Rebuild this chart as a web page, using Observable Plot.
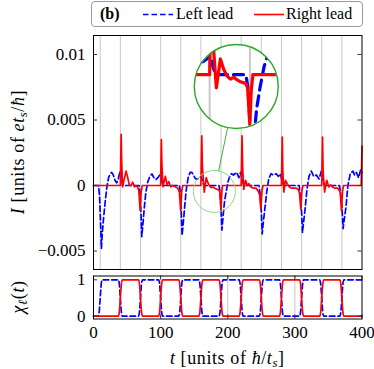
<!DOCTYPE html>
<html><head><meta charset="utf-8">
<script src="https://cdn.jsdelivr.net/npm/d3@7"></script>
<script src="https://cdn.jsdelivr.net/npm/@observablehq/plot@0.6"></script>
<style>
body{margin:0;background:#fff;}
#wrap{position:relative;width:374px;height:369px;font-family:"Liberation Serif","DejaVu Serif",serif;color:#000;overflow:hidden;}
#wrap svg{position:absolute;overflow:visible;}
#wrap svg, #wrap svg text, #wrap svg g{font-family:"Liberation Serif","DejaVu Serif",serif !important;}
.lab{position:absolute;white-space:nowrap;font-size:18px;letter-spacing:0.6px;line-height:1;}
.lab sub{font-size:0.7em;vertical-align:-0.25em;line-height:0;}
#legend{position:absolute;left:91px;top:1px;width:272px;height:26px;box-sizing:border-box;border:1px solid #9a9a9a;border-radius:4px;font-size:16px;}
#legend span{position:absolute;top:4px;white-space:nowrap;line-height:1;}
#legend svg{position:absolute;top:0;}
</style></head><body>
<div id="wrap"></div>
<script>
// ---- data ----
const leftT = [0, 7.5, 9, 10.5, 11.8, 13, 15, 17.5, 20, 22.5, 25, 27, 29.5, 32, 34.5, 37, 39.5, 41.5, 43.5,
  68, 69.5, 70.8, 72, 73.5, 75.5, 78, 81, 84, 87, 90, 93, 96, 98.5, 100, 101.5, 103.5,
  128, 129.5, 130.8, 132, 133.5, 135.5, 138, 141, 144, 146.5, 149, 152, 155, 158, 160.5, 162.5, 164.5,
  187, 188.5, 190, 191.3, 193, 195, 197.5, 200.5, 203, 205.5, 208.5, 211, 213.5, 216.5, 219, 221.5, 224,
  246.5, 248.5, 250, 251.3, 253, 255, 258, 261, 264.5, 268, 272, 275.5, 278.5, 281, 284,
  306.5, 308.5, 310, 311.3, 313, 315, 318, 321, 324.5, 328, 332, 336, 339.5, 342, 344.5,
  366.5, 368.5, 370, 371.8, 373.5, 376, 379, 382.5, 386.5, 389, 391.5, 395, 398, 400];
const leftI = [0, 0, -0.0008, -0.0028, -0.0048, -0.0037, -0.0025, -0.0012, -0.0001, 0.0006, 0.0009, 0.001, 0.0008, 0.0004, 0.0002, 0.0005, 0.0011, 0.0007, 0,
  0, -0.0006, -0.0022, -0.0039, -0.003, -0.0018, -0.0005, 0.0003, 0.0007, 0.00088, 0.0006, 0.00045, 0.0006, 0.0008, 0.0007, 0.0003, 0,
  0, -0.0006, -0.0022, -0.0038, -0.003, -0.0018, -0.0004, 0.0006, 0.001, 0.001, 0.0008, 0.0005, 0.0005, 0.0006, 0.0007, 0.0003, 0,
  0, -0.0005, -0.0018, -0.0034, -0.0024, -0.0013, -0.0005, 0.0003, 0.0007, 0.0009, 0.0008, 0.0009, 0.001, 0.0006, 0.001, 0.0004, 0,
  0, -0.0008, -0.002, -0.0037, -0.0028, -0.0019, -0.0005, 0.0005, 0.0009, 0.0008, 0.0009, 0.0007, 0.0009, 0.0003, 0,
  0, -0.0011, -0.002, -0.0036, -0.0028, -0.0019, -0.0003, 0.0007, 0.0011, 0.0007, 0.0008, 0.0005, 0.0011, 0.0003, 0,
  0, -0.0008, -0.0015, -0.0033, -0.0026, -0.0017, 0, 0.0009, 0.0011, 0.0008, 0.001, 0.0006, 0.0012, 0.001];

const rightT = [0, 40, 40.6, 41.2, 42, 43.3, 45, 48.5, 51, 53.5, 56, 58.5, 61, 63, 65.5, 67.5, 69.5, 71, 72.5,
  100, 100.5, 101.1, 101.9, 103.5, 107, 109.5, 112, 115, 118, 122, 125.5, 128, 129.8, 131.5, 133,
  160, 160.6, 161.3, 162.2, 165, 168, 170.5, 173, 175.5, 178, 180.5, 183, 186.7, 188.3, 189.9, 191, 192.2,
  220, 220.6, 221.3, 222.2, 223.8, 226.6, 229, 231.5, 234, 238, 242, 245, 247.5, 249.3, 251, 252.5,
  280, 280.6, 281.2, 282, 283.5, 286, 289, 291.5, 294.5, 298, 302, 305, 307, 308.8, 310.5, 312,
  340, 340.6, 341.2, 342, 344.2, 347.5, 350.5, 353, 356, 359, 364, 367.5, 369.4, 371, 372.5,
  398.8, 400];
const rightI = [0, 0, 0.002, 0.0039, 0.0018, -0.0001, 0.0003, 0.0011, 0.0006, 0, 0, 0.00025, -0.0001, 0, -0.0001, -0.0004, -0.0019, -0.0005, 0,
  0, 0.0018, 0.0035, 0.0016, -0.0001, 0.0007, 0.0001, 0.0003, -0.0001, 0, -0.0001, -0.0002, -0.0005, -0.0019, -0.0004, 0,
  0, 0.0019, 0.0038, 0.0015, -0.0005, 0.0006, 0.0002, -0.00005, -0.00017, -0.0001, -0.0002, -0.00027, -0.00033, -0.0005, -0.0019, -0.0006, 0,
  0, 0.0019, 0.0038, 0.0014, -0.0003, 0.0004, 0, 0.00015, -0.0001, -0.0002, -0.0002, -0.0004, -0.0007, -0.0018, -0.0004, 0,
  0, 0.0019, 0.0037, 0.0012, -0.0005, 0.0004, 0.0001, -0.0001, -0.0002, -0.0002, -0.0002, -0.0003, -0.0006, -0.0018, -0.0004, 0,
  0, 0.0019, 0.0037, 0.0012, -0.0005, 0.0004, -0.0001, 0.00005, -0.0001, -0.0002, -0.0002, -0.0005, -0.0019, -0.0004, 0,
  0, 0.003];

const chiLT = [0, 7, 8.5, 10, 11.5, 13, 37, 38.5, 40, 41.5, 43, 67, 68.5, 70, 71.5, 73, 97, 98.5, 100, 101.5, 103,
  127, 128.5, 130, 131.5, 133, 157, 158.5, 160, 161.5, 163, 187, 188.5, 190, 191.5, 193, 217, 218.5, 220, 221.5, 223,
  247, 248.5, 250, 251.5, 253, 277, 278.5, 280, 281.5, 283, 307, 308.5, 310, 311.5, 313, 337, 338.5, 340, 341.5, 343,
  367, 368.5, 370, 371.5, 373, 400];
const chiLV = [0, 0, 0.12, 0.5, 0.88, 1, 1, 0.88, 0.5, 0.12, 0, 0, 0.12, 0.5, 0.88, 1, 1, 0.88, 0.5, 0.12, 0,
  0, 0.12, 0.5, 0.88, 1, 1, 0.88, 0.5, 0.12, 0, 0, 0.12, 0.5, 0.88, 1, 1, 0.88, 0.5, 0.12, 0,
  0, 0.12, 0.5, 0.88, 1, 1, 0.88, 0.5, 0.12, 0, 0, 0.12, 0.5, 0.88, 1, 1, 0.88, 0.5, 0.12, 0,
  0, 0.12, 0.5, 0.88, 1, 1];
const chiRT = [0, 37, 38.5, 40, 41.5, 43, 67, 68.5, 70, 71.5, 73, 97, 98.5, 100, 101.5, 103,
  127, 128.5, 130, 131.5, 133, 157, 158.5, 160, 161.5, 163, 187, 188.5, 190, 191.5, 193, 217, 218.5, 220, 221.5, 223,
  247, 248.5, 250, 251.5, 253, 277, 278.5, 280, 281.5, 283, 307, 308.5, 310, 311.5, 313, 337, 338.5, 340, 341.5, 343,
  367, 368.5, 370, 371.5, 373, 400];
const chiRV = [0, 0, 0.12, 0.5, 0.88, 1, 1, 0.88, 0.5, 0.12, 0, 0, 0.12, 0.5, 0.88, 1,
  1, 0.88, 0.5, 0.12, 0, 0, 0.12, 0.5, 0.88, 1, 1, 0.88, 0.5, 0.12, 0, 0, 0.12, 0.5, 0.88, 1,
  1, 0.88, 0.5, 0.12, 0, 0, 0.12, 0.5, 0.88, 1, 1, 0.88, 0.5, 0.12, 0, 0, 0.12, 0.5, 0.88, 1,
  1, 0.88, 0.5, 0.12, 0, 0];

const gridMainT = [10, 40, 70, 100, 130, 160, 190, 220, 250, 280, 310, 340, 370];
const gridLowerT = [100, 200, 300];
const xTicks = [0, 100, 200, 300, 400];
const xTickLabels = ["0", "100", "200", "300", "400"];
const yTicksMain = [-0.005, 0, 0.005, 0.01];
const yTickLabelsMain = ["\u22120.005", "0", "0.005", "0.01"];
const yTicksChi = [0, 1];
const yTickLabelsChi = ["0", "1"];
const spySmall = {t: 180, I: -0.00045};   // magnified spot
const spyBig = {t: 212.7, I: 0.00756};    // where the magnifier sits
const spyZoom = 2;

// ---- build ----
const leftData = leftT.map((t, i) => ({t, I: leftI[i]}));
const rightData = rightT.map((t, i) => ({t, I: rightI[i]}));
const chiL = chiLT.map((t, i) => ({t, v: chiLV[i]}));
const chiR = chiRT.map((t, i) => ({t, v: chiRV[i]}));

const W = 374, L = 93, R = 361.5;
const mainH = 272, mainTop = 35, mainBottom = 269;
const yMainDom = [-0.00641, 0.01145];
const blue = "#0000ff", red = "#ff0000";
const font = '"Liberation Serif","DejaVu Serif",serif';
const fw = R - L;
const wrap = document.getElementById("wrap");
const fmt = (ticks, labels) => d => labels[ticks.indexOf(d)];

const main = Plot.plot({
  width: W, height: mainH, marginLeft: L, marginRight: W - R, marginTop: mainTop, marginBottom: mainH - mainBottom,
  x: {domain: [0, 400], axis: null}, y: {domain: yMainDom, axis: null},
  style: {background: "transparent", fontFamily: font, fontSize: "17px", color: "#000"},
  marks: [
    Plot.ruleX(gridMainT, {stroke: "#c8c8c8", strokeWidth: 1}),
    Plot.line(leftData, {x: "t", y: "I", stroke: blue, strokeWidth: 1.7, strokeDasharray: "5.5,3"}),
    Plot.line(rightData, {x: "t", y: "I", stroke: red, strokeWidth: 1.7}),
    Plot.dot([spySmall], {x: "t", y: "I", r: 21, stroke: "#8fd68f", strokeWidth: 1, fill: "none"}),
    Plot.arrow([{a: spySmall, b: spyBig}], {x1: d => d.a.t, y1: d => d.a.I, x2: d => d.b.t, y2: d => d.b.I,
      insetStart: 21, insetEnd: 42, headLength: 0, stroke: "#3cb43c", strokeWidth: 1}),
    Plot.tickY(yTicksMain, {y: d => d, insetRight: fw - 4, stroke: "#333"}),
    Plot.tickY(yTicksMain, {y: d => d, insetLeft: fw - 4, stroke: "#333"}),
    Plot.axisY(yTicksMain, {tickSize: 0, tickPadding: 8, tickFormat: fmt(yTicksMain, yTickLabelsMain), label: null, fontSize: 17}),
    Plot.frame({stroke: "#000", strokeWidth: 1})
  ]
});
main.style.left = "0px"; main.style.top = "0px";
wrap.appendChild(main);

// magnifier
const kx = fw / 400, ky = (mainBottom - mainTop) / (yMainDom[1] - yMainDom[0]);
const rad = 42;
const hx = rad / (spyZoom * kx), hy = rad / (spyZoom * ky);
const inset = Plot.plot({
  width: 2 * rad, height: 2 * rad, margin: 0,
  x: {domain: [spySmall.t - hx, spySmall.t + hx], axis: null},
  y: {domain: [spySmall.I - hy, spySmall.I + hy], axis: null},
  style: {background: "#fff"},
  marks: [
    Plot.ruleX(gridMainT, {stroke: "#c8c8c8", strokeWidth: 2}),
    Plot.line(leftData, {x: "t", y: "I", stroke: blue, strokeWidth: 3.2, strokeDasharray: "10,6"}),
    Plot.line(rightData, {x: "t", y: "I", stroke: red, strokeWidth: 3.2})
  ]
});
const cx = L + spyBig.t * kx, cy = mainTop + (yMainDom[1] - spyBig.I) * ky;
inset.style.left = (cx - rad) + "px"; inset.style.top = (cy - rad) + "px";
inset.style.clipPath = `circle(${rad}px at ${rad}px ${rad}px)`;
wrap.appendChild(inset);

const ring = Plot.plot({
  width: W, height: mainH, marginLeft: L, marginRight: W - R, marginTop: mainTop, marginBottom: mainH - mainBottom,
  x: {domain: [0, 400], axis: null}, y: {domain: yMainDom, axis: null},
  style: {background: "transparent"},
  marks: [Plot.dot([spyBig], {x: "t", y: "I", r: rad, stroke: "#2aaa2a", strokeWidth: 1.4, fill: "none"})]
});
ring.style.left = "0px"; ring.style.top = "0px";
wrap.appendChild(ring);

// lower panel
const lowTopPx = 272, lowH = 97, lowFrameTop = 275.5, lowFrameBottom = 318.5;
const lfh = lowFrameBottom - lowFrameTop;
const chi = Plot.plot({
  width: W, height: lowH, marginLeft: L, marginRight: W - R,
  marginTop: lowFrameTop - lowTopPx, marginBottom: lowTopPx + lowH - lowFrameBottom,
  x: {domain: [0, 400], axis: null}, y: {domain: [-0.077, 1.104], axis: null},
  style: {background: "transparent", fontFamily: font, fontSize: "17px", color: "#000"},
  marks: [
    Plot.ruleX(gridLowerT, {stroke: "#c8c8c8", strokeWidth: 1}),
    Plot.line(chiL, {x: "t", y: "v", stroke: blue, strokeWidth: 1.7, strokeDasharray: "5.5,3", curve: "monotone-x"}),
    Plot.line(chiR, {x: "t", y: "v", stroke: red, strokeWidth: 1.7, curve: "monotone-x"}),
    Plot.tickY(yTicksChi, {y: d => d, insetRight: fw - 4, stroke: "#333"}),
    Plot.tickY(yTicksChi, {y: d => d, insetLeft: fw - 4, stroke: "#333"}),
    Plot.tickX(xTicks, {x: d => d, insetTop: lfh - 4, stroke: "#333"}),
    Plot.tickX(xTicks, {x: d => d, insetBottom: lfh - 4, stroke: "#333"}),
    Plot.axisY(yTicksChi, {tickSize: 0, tickPadding: 8, tickFormat: fmt(yTicksChi, yTickLabelsChi), label: null, fontSize: 17}),
    Plot.axisX(xTicks, {tickSize: 0, tickPadding: 7, tickFormat: fmt(xTicks, xTickLabels), label: null, fontSize: 17}),
    Plot.frame({stroke: "#000", strokeWidth: 1})
  ]
});
chi.style.left = "0px"; chi.style.top = lowTopPx + "px";
wrap.appendChild(chi);

// labels
function addLab(html, x, y, rot) {
  const d = document.createElement("div");
  d.className = "lab";
  d.innerHTML = html;
  d.style.left = x + "px"; d.style.top = y + "px";
  d.style.transform = "translate(-50%,-50%)" + (rot ? " rotate(-90deg)" : "");
  wrap.appendChild(d);
}
addLab('<i>I</i> [units of <i>et<sub>s</sub></i>/<i>ħ</i>]', 18, (mainTop + mainBottom) / 2, true);
addLab('<i>χ<sub>ℓ</sub></i>(<i>t</i>)', 18, (lowFrameTop + lowFrameBottom) / 2, true);
addLab('<i>t</i> [units of <i>ħ</i>/<i>t<sub>s</sub></i>]', (L + R) / 2, 358, false);

// legend
const lg = document.createElement("div");
lg.id = "legend";
lg.innerHTML = `<span style="left:8px;font-weight:bold">(b)</span>
<svg width="32" height="26" style="left:50px"><line x1="1" y1="12.5" x2="31" y2="12.5" stroke="${blue}" stroke-width="1.6" stroke-dasharray="5.5,3"/></svg>
<span style="left:84px">Left lead</span>
<svg width="32" height="26" style="left:161px"><line x1="1" y1="12.5" x2="31" y2="12.5" stroke="${red}" stroke-width="1.6"/></svg>
<span style="left:194px">Right lead</span>`;
wrap.appendChild(lg);
</script></body></html>
